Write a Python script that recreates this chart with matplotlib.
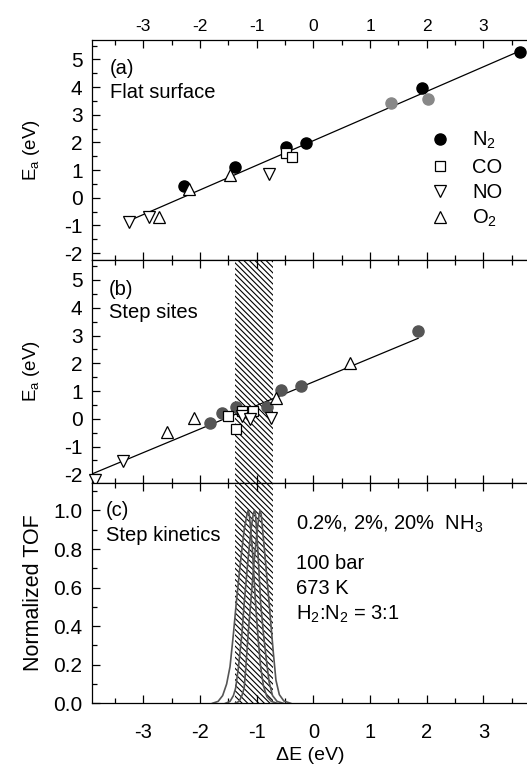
import matplotlib
matplotlib.use("Agg")
import matplotlib.pyplot as plt
from matplotlib.lines import Line2D
from matplotlib.ticker import MultipleLocator, FormatStrFormatter

plt.rcParams['font.family'] = ['Liberation Sans', 'DejaVu Sans']
plt.rcParams['mathtext.default'] = 'regular'
plt.rcParams['axes.unicode_minus'] = False
plt.rcParams['hatch.linewidth'] = 0.8

# ---- panel (a): flat surface ----
a_n2_x = [-2.28, -1.38, -0.49, -0.13, 1.91, 3.64]
a_n2_y = [0.42, 1.12, 1.82, 1.99, 3.95, 5.27]
a_n2g_x = [1.37, 2.03]
a_n2g_y = [3.41, 3.55]
a_co_x = [-0.49, -0.37]
a_co_y = [1.60, 1.46]
a_no_x = [-3.25, -2.90, -0.78]
a_no_y = [-0.87, -0.69, 0.85]
a_o2_x = [-2.72, -2.19, -1.47]
a_o2_y = [-0.69, 0.30, 0.81]
a_fit_x = [-3.25, 3.64]
a_fit_y = [-0.83, 5.30]

# ---- panel (b): step sites ----
b_n2_x = [-1.83, -1.61, -1.37, -0.82, -0.57, -0.22, 1.85]
b_n2_y = [-0.14, 0.20, 0.44, 0.41, 1.04, 1.19, 3.16]
b_co_x = [-1.50, -1.37, -1.25, -1.07]
b_co_y = [0.11, -0.37, 0.29, 0.29]
b_no_x = [-3.85, -3.35, -1.25, -1.12, -0.75]
b_no_y = [-2.20, -1.52, 0.11, -0.02, 0.02]
b_o2_x = [-2.59, -2.10, -0.65, 0.64]
b_o2_y = [-0.46, 0.04, 0.76, 2.02]
b_fit_x = [-3.9, 1.85]
b_fit_y = [-1.98, 2.90]

# hatched optimum window
band = [-1.39, -0.71]

# ---- panel (c): normalized TOF for 0.2%, 2%, 20% NH3 ----
tof_x1 = [-1.78, -1.68, -1.60, -1.53, -1.47, -1.41, -1.36, -1.29, -1.22, -1.17,
          -1.15, -1.13, -1.08, -1.02, -0.97, -0.93, -0.88, -0.82, -0.74, -0.64]
tof_y1 = [0.0, 0.01, 0.04, 0.10, 0.19, 0.36, 0.52, 0.72, 0.90, 0.98,
          1.0, 0.98, 0.82, 0.52, 0.32, 0.19, 0.09, 0.035, 0.01, 0.0]
tof_x2 = [-1.55, -1.47, -1.41, -1.37, -1.32, -1.26, -1.22, -1.16, -1.10, -1.06,
          -1.04, -1.02, -0.98, -0.93, -0.88, -0.835, -0.78, -0.72, -0.64, -0.53]
tof_y2 = [0.0, 0.01, 0.04, 0.08, 0.19, 0.36, 0.52, 0.72, 0.90, 0.98,
          1.0, 0.98, 0.80, 0.52, 0.36, 0.24, 0.11, 0.04, 0.01, 0.0]
tof_x3 = [-1.38, -1.31, -1.26, -1.22, -1.19, -1.15, -1.105, -1.05, -0.99, -0.955,
          -0.94, -0.92, -0.87, -0.78, -0.74, -0.705, -0.66, -0.60, -0.52, -0.40]
tof_y3 = [0.0, 0.01, 0.04, 0.08, 0.19, 0.36, 0.52, 0.72, 0.90, 0.98,
          1.0, 0.98, 0.82, 0.52, 0.38, 0.26, 0.12, 0.045, 0.012, 0.0]

fs = 14.5       # text and bottom tick labels
fs_y = 15       # left tick labels
fs_top = 12.5   # top tick labels

fig = plt.figure(figsize=(5.27, 7.68), dpi=100)
W, H = 527.0, 768.0

def px(x, y):
    return x / W, 1 - y / H

def make_ax(top, bottom):
    ax = fig.add_axes([92.3 / W, 1 - bottom / H, 436.4 / W, (bottom - top) / H])
    ax.set_xlim(-3.9, 3.8)
    ax.xaxis.set_major_locator(MultipleLocator(1))
    ax.xaxis.set_minor_locator(MultipleLocator(0.5))
    ax.tick_params(which='both', direction='in', top=True, bottom=True, right=False,
                   width=0.9)
    ax.tick_params(which='major', length=6)
    ax.tick_params(which='minor', length=3.5)
    ax.tick_params(axis='x', labelbottom=False, labelsize=fs, pad=14)
    ax.tick_params(axis='y', labelsize=fs_y, pad=7)
    ax.spines['right'].set_visible(False)
    for s in ['left', 'top', 'bottom']:
        ax.spines[s].set_linewidth(0.9)
    return ax

ax_a = make_ax(40, 260)
ax_b = make_ax(260, 482.7)
ax_c = make_ax(482.7, 703.3)

for ax in [ax_a, ax_b]:
    ax.yaxis.set_major_locator(MultipleLocator(1))
    ax.yaxis.set_minor_locator(MultipleLocator(0.5))
    ax.set_ylabel('E$_a$ (eV)', fontsize=13.5)
    ax.yaxis.set_label_coords(-0.115, 0.5)
ax_a.set_ylim(-2.25, 5.7)
ax_b.set_ylim(-2.30, 5.72)
ax_a.tick_params(axis='x', labeltop=True)
for lab in ax_a.xaxis.get_ticklabels():
    lab.set_fontsize(fs_top)
ax_a.xaxis.set_tick_params(which='major', pad=4)

mk = dict(ls='none', clip_on=False, zorder=3)

# panel a
ax_a.plot(a_fit_x, a_fit_y, color='k', lw=0.9, zorder=2)
ax_a.plot(a_n2_x, a_n2_y, marker='o', ms=8, mfc='k', mec='k', **mk)
ax_a.plot(a_n2g_x, a_n2g_y, marker='o', ms=8, mfc='#888888', mec='#888888', **mk)
ax_a.plot(a_co_x, a_co_y, marker='s', ms=6.5, mfc='white', mec='k', mew=0.9, **mk)
ax_a.plot(a_no_x, a_no_y, marker='v', ms=8, mfc='white', mec='k', mew=0.9, **mk)
ax_a.plot(a_o2_x, a_o2_y, marker='^', ms=8, mfc='white', mec='k', mew=0.9, **mk)

handles = [
    Line2D([], [], ls='none', marker='o', ms=8, mfc='k', mec='k'),
    Line2D([], [], ls='none', marker='s', ms=6.5, mfc='white', mec='k', mew=0.9),
    Line2D([], [], ls='none', marker='v', ms=8, mfc='white', mec='k', mew=0.9),
    Line2D([], [], ls='none', marker='^', ms=8, mfc='white', mec='k', mew=0.9),
]
ax_a.legend(handles, ['N$_2$', 'CO', 'NO', 'O$_2$'], loc='upper left',
            bbox_to_anchor=px(422, 122), bbox_transform=fig.transFigure,
            frameon=False, fontsize=fs, handlelength=1.0, handletextpad=1.1,
            labelspacing=0.31, borderpad=0.4, borderaxespad=0)

ax_a.text(*px(110, 74), '(a)', transform=fig.transFigure, fontsize=fs, va='baseline')
ax_a.text(*px(110, 97.7), 'Flat surface', transform=fig.transFigure, fontsize=fs, va='baseline')

# panel b
ax_b.axvspan(band[0], band[1], facecolor='none', edgecolor='k', hatch=6 * '\\',
             lw=0, zorder=1)
ax_b.plot(b_fit_x, b_fit_y, color='k', lw=0.9, zorder=2)
ax_b.plot(b_n2_x, b_n2_y, marker='o', ms=8, mfc='#555555', mec='#555555', **mk)
ax_b.plot(b_co_x, b_co_y, marker='s', ms=6.5, mfc='white', mec='k', mew=0.9, **mk)
ax_b.plot(b_no_x, b_no_y, marker='v', ms=8, mfc='white', mec='k', mew=0.9, **mk)
ax_b.plot(b_o2_x, b_o2_y, marker='^', ms=8, mfc='white', mec='k', mew=0.9, **mk)
ax_b.text(*px(109, 295), '(b)', transform=fig.transFigure, fontsize=fs, va='baseline')
ax_b.text(*px(109, 318.3), 'Step sites', transform=fig.transFigure, fontsize=fs, va='baseline')

# panel c
ax_c.set_ylim(0, 1.144)
ax_c.yaxis.set_major_locator(MultipleLocator(0.2))
ax_c.yaxis.set_minor_locator(MultipleLocator(0.1))
ax_c.yaxis.set_major_formatter(FormatStrFormatter('%.1f'))
ax_c.tick_params(axis='x', labelbottom=True)
ax_c.set_ylabel('Normalized TOF', fontsize=15.5)
ax_c.yaxis.set_label_coords(-0.11, 0.5)
ax_c.set_xlabel('ΔE (eV)', fontsize=14, labelpad=3.5)
ax_c.axvspan(band[0], band[1], facecolor='none', edgecolor='k', hatch=6 * '\\',
             lw=0, zorder=1)
for tx, ty in [(tof_x1, tof_y1), (tof_x2, tof_y2), (tof_x3, tof_y3)]:
    ax_c.plot(tx, ty, color='#555555', lw=1.2, zorder=2)

ax_c.text(*px(106, 516), '(c)', transform=fig.transFigure, fontsize=fs, va='baseline')
ax_c.text(*px(106, 541), 'Step kinetics', transform=fig.transFigure, fontsize=fs, va='baseline')
ax_c.text(*px(296, 529.3), '0.2%, 2%, 20%  NH$_3$', transform=fig.transFigure,
          fontsize=fs, va='baseline')
ax_c.text(*px(296, 569), '100 bar', transform=fig.transFigure, fontsize=fs, va='baseline')
ax_c.text(*px(296, 594), '673 K', transform=fig.transFigure, fontsize=fs, va='baseline')
ax_c.text(*px(296, 619.3), 'H$_2$:N$_2$ = 3:1', transform=fig.transFigure,
          fontsize=fs, va='baseline')

fig.savefig('out.png', dpi=100)
